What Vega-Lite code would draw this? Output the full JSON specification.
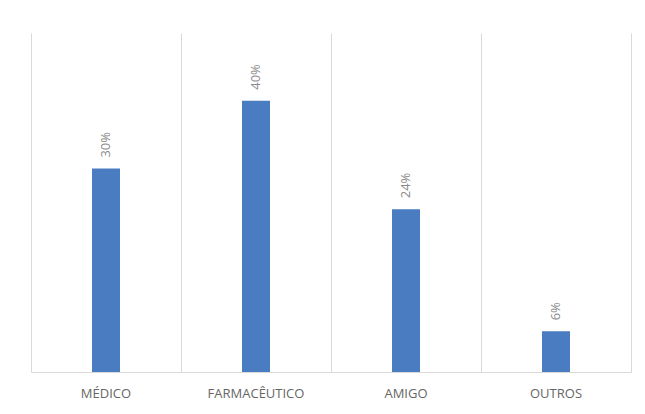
{
  "$schema": "https://vega.github.io/schema/vega-lite/v6.json",
  "autosize": "none",
  "width": 600,
  "height": 339,
  "padding": {"left": 31, "top": 33, "right": 14, "bottom": 42},
  "background": "white",
  "config": {"view": {"stroke": null}, "font": "Open Sans"},
  "data": {"values": [
    {"categoria": "MÉDICO", "valor": 30, "rotulo": "30%"},
    {"categoria": "FARMACÊUTICO", "valor": 40, "rotulo": "40%"},
    {"categoria": "AMIGO", "valor": 24, "rotulo": "24%"},
    {"categoria": "OUTROS", "valor": 6, "rotulo": "6%"}
  ]},
  "encoding": {
    "x": {
      "field": "categoria", "type": "nominal", "sort": null,
      "scale": {"paddingInner": 0, "paddingOuter": 0},
      "axis": {
        "title": null, "labelAngle": 0, "ticks": false, "grid": true, "bandPosition": 0,
        "gridColor": "#d9d9d9", "gridWidth": 1,
        "domainColor": "#d9d9d9", "domainWidth": 1,
        "labelColor": "#666666", "labelFontSize": 13, "labelPadding": 15,
        "labelFont": "Open Sans"
      }
    },
    "y": {
      "field": "valor", "type": "quantitative",
      "scale": {"domain": [0, 50]},
      "axis": {
        "orient": "right", "title": null, "labels": false, "ticks": false, "grid": false,
        "domainColor": "#d9d9d9", "domainWidth": 1
      }
    }
  },
  "layer": [
    {"mark": {"type": "bar", "width": 28, "color": "#4a7cc1"}},
    {
      "mark": {"type": "text", "angle": 270, "align": "left", "baseline": "middle", "dx": 11,
               "fontSize": 13, "color": "#8a8a8a", "font": "Open Sans"},
      "encoding": {"text": {"field": "rotulo"}}
    }
  ]
}
